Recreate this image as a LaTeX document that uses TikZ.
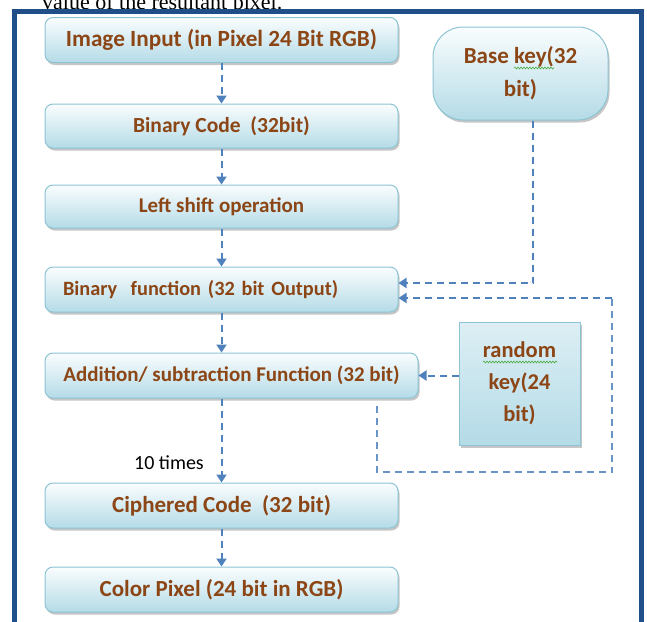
\documentclass[tikz,border=0pt]{standalone}
\usepackage{fontspec}
\setmainfont{Liberation Serif}
\newfontfamily\calib{Carlito}
\usetikzlibrary{positioning, shadows, arrows.meta, decorations.pathmorphing}
\definecolor{frameblue}{RGB}{31,78,137}
\definecolor{arrblue}{RGB}{79,129,189}
\definecolor{txtbrown}{RGB}{140,70,22}
\definecolor{boxtop}{RGB}{250,253,254}
\definecolor{boxbot}{RGB}{180,219,231}
\definecolor{boxline}{RGB}{140,196,212}
\definecolor{wavegreen}{RGB}{70,170,60}
\newcommand\fsz[2]{\fontsize{#1}{#2}\selectfont}

\tikzset{
  procbox/.style={draw=boxline, line width=1pt, rounded corners=8pt,
    top color=boxtop, bottom color=boxbot,
    drop shadow={shadow xshift=1.5pt, shadow yshift=-2.5pt, fill=black!50, opacity=0.45},
    text=txtbrown, font=\calib\bfseries, minimum width=353pt, minimum height=45pt,
    inner sep=0pt, align=center},
  keybox/.style={procbox, minimum width=121pt, minimum height=123pt, rounded corners=0pt,
    top color=boxbot!45, bottom color=boxbot},
  flow/.style={draw=arrblue, line width=2pt, dash pattern=on 7pt off 5pt,
    -{Triangle[length=8pt,width=10pt]}},
  loopline/.style={draw=arrblue!85, line width=1.3pt, dash pattern=on 7pt off 5pt},
  spellmark/.style={draw=wavegreen, line width=0.6pt, decorate,
    decoration={snake, segment length=3pt, amplitude=0.9pt}},
}

\begin{document}
\begin{tikzpicture}[x=1pt, y=-1pt]
  \useasboundingbox (0,0) rectangle (647,621);
  \clip (0,0) rectangle (647,621);
  % cut-off line of the page above
  \node[anchor=base west, inner sep=0pt, font=\fsz{22}{26}] (captxt) at (42,9.5) {value of the resultant pixel.};
  % frame
  \draw[frameblue, line width=4.5pt] (14.7,630) -- (14.7,11.7) -- (641.7,11.7) -- (641.7,630);

  % main chain
  \node[procbox, font=\calib\bfseries\fsz{23.2}{26}] (imgin) at (221.5,40) {Image Input (in Pixel 24 Bit RGB)};
  \node[procbox, font=\calib\bfseries\fsz{21.5}{24}, minimum height=44pt] (bincode) at (221.5,126) {Binary Code~~(32bit)};
  \node[procbox, font=\calib\bfseries\fsz{21}{24}, minimum height=43pt] (lshift) at (221.5,206.5) {Left shift operation};
  \node[procbox, font=\calib\bfseries\fsz{20.3}{24}, text width=317pt, inner xsep=18pt, align=left] (binfn) at (221.5,289.5) {Binary~~function (32 bit Output)};
  \node[procbox, font=\calib\bfseries\fsz{21}{24}, minimum width=373pt] (addsub) at (231.5,375.5) {Addition/ subtraction Function (32 bit)};
  \node[procbox, font=\calib\bfseries\fsz{23}{26}] (cipher) at (221.5,505.5) {Ciphered Code~~(32 bit)};
  \node[procbox, font=\calib\bfseries\fsz{23}{26}] (colpix) at (221.5,589.5) {Color Pixel (24 bit in RGB)};

  % keys
  \node[procbox, font=\calib\bfseries\fsz{23}{33}, minimum width=175pt, minimum height=93pt, rounded corners=30pt] (basekey) at (520.5,73.5) {Base key(32\\bit)};
  \node[keybox, font=\calib\bfseries\fsz{22.5}{32}] (randkey) at (519.5,383.5) {random\\key(24\\bit)};
  \draw[spellmark] (514,68) -- (554,68);
  \draw[spellmark] (483,362) -- (557,362);

  \node[font=\calib\fsz{20}{22}, anchor=east, inner sep=0pt] (tentimes) at (204,463) {10 times};

  % arrows
  \draw[flow] (imgin) -- (bincode);
  \draw[flow] (bincode) -- (lshift);
  \draw[flow] (lshift) -- (binfn);
  \draw[flow] (binfn) -- (binfn |- addsub.north);
  \draw[flow] (addsub.south -| cipher) -- (cipher);
  \draw[flow] (cipher) -- (colpix);
  \draw[flow] (randkey.west |- addsub.east) -- (addsub.east);
  \draw[flow] ([xshift=12.5pt]basekey.south) |- ([yshift=6.5pt]binfn.east);
  \coordinate (loopcorner) at (612,472);
  \draw[loopline] ([xshift=145.5pt, yshift=-7pt]addsub.south) |- (loopcorner) -- (612,298);
  \draw[flow] (612,298) -- ([yshift=-8.5pt]binfn.east);
\end{tikzpicture}
\end{document}
